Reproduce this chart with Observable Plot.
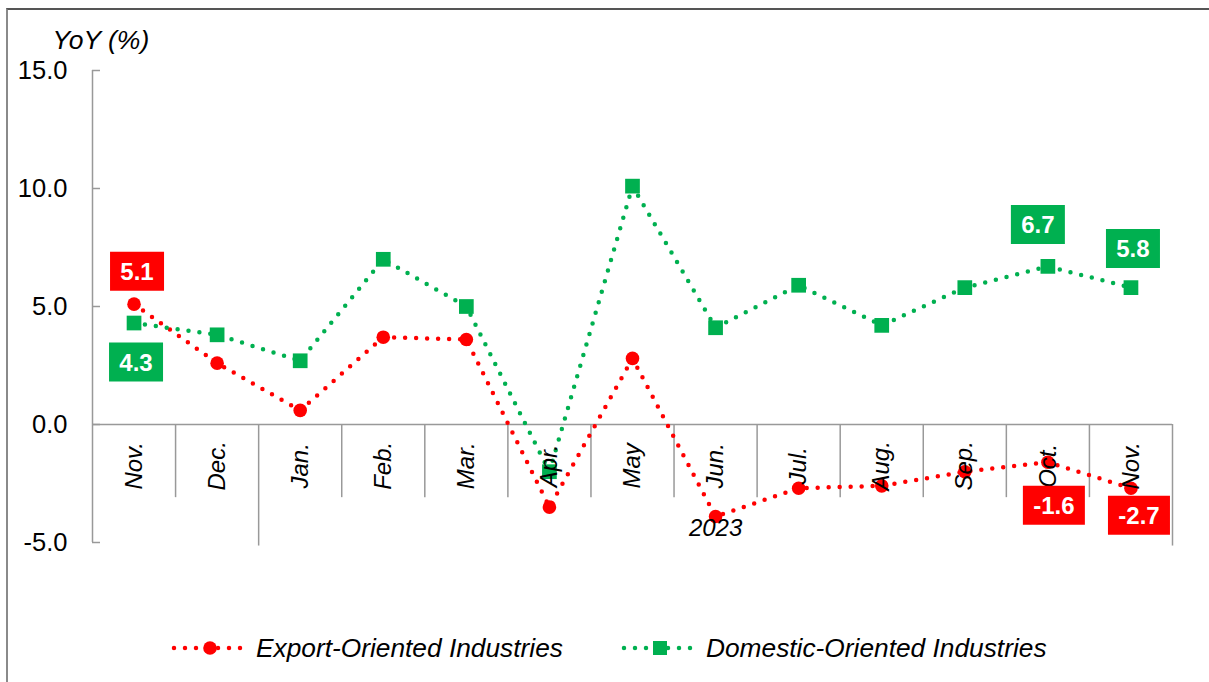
<!DOCTYPE html>
<html>
<head>
<meta charset="utf-8">
<script src="https://cdn.jsdelivr.net/npm/d3@7"></script>
<script src="https://cdn.jsdelivr.net/npm/@observablehq/plot@0.6"></script>
<style>
  html, body { margin: 0; padding: 0; background: #fff; }
  body { font-family: "Liberation Sans", Arial, sans-serif; }
  #wrap { position: relative; width: 1209px; height: 682px; overflow: hidden; }
  #frame { position: absolute; left: 6px; top: 8px; width: 1400px; height: 900px;
           border-left: 2px solid #8a8a8a; border-top: 2px solid #555; box-sizing: border-box; }
  #chart { position: absolute; left: 0; top: 0; }
  .leg { position: absolute; top: 628px; height: 40px; display: flex; align-items: center;
         font-style: italic; font-size: 26.3px; color: #000; white-space: nowrap; }
  .leg svg { margin-right: 6px; }
</style>
</head>
<body>
<div id="wrap">
  <div id="frame"></div>
  <div id="chart"></div>
  <div class="leg" id="leg1" style="left:170px"></div>
  <div class="leg" id="leg2" style="left:620px"></div>
</div>
<script>
// ---- Data ----
const months = ["Nov.", "Dec.", "Jan.", "Feb.", "Mar.", "Apr.", "May", "Jun.", "Jul.", "Aug.", "Sep.", "Oct.", "Nov."];
const exportOriented = [5.1, 2.6, 0.6, 3.7, 3.6, -3.5, 2.8, -3.9, -2.7, -2.6, -2.0, -1.6, -2.7];
const domesticOriented = [4.3, 3.8, 2.7, 7.0, 5.0, -2.0, 10.1, 4.1, 5.9, 4.2, 5.8, 6.7, 5.8];
const yTicks = [-5, 0, 5, 10, 15];
const yearLabel = "2023";
const seriesNames = ["Export-Oriented Industries", "Domestic-Oriented Industries"];
// labelled points: [series, month index]
const labelled = [["export", 0], ["domestic", 0], ["domestic", 11], ["domestic", 12], ["export", 11], ["export", 12]];

// ---- Styles ----
const RED = "#FF0000", GREEN = "#00B050";
const FONT = "Liberation Sans, Arial, sans-serif";
const labelOffsets = [[3, -33], [2, 39], [-10, -42], [2, -39], [6, 43], [8, 27]];

const rows = months.map((m, i) => ({i, month: m, export: exportOriented[i], domestic: domesticOriented[i]}));
const boundaries = d3.range(months.length + 1).map(k => k - 0.5);

function rectSymbol(w, h) {
  return { draw(ctx) { ctx.rect(-w / 2, -h / 2, w, h); } };
}

const labelMarks = labelled.flatMap(([s, idx], k) => {
  const v = s === "export" ? exportOriented[idx] : domesticOriented[idx];
  const txt = v.toFixed(1);
  const w = v < 0 ? 62 : 54;
  const [dx, dy] = labelOffsets[k];
  const d = [{i: idx, v, txt}];
  return [
    Plot.dot(d, {x: "i", y: "v", r: 1, symbol: rectSymbol(w, 39), fill: s === "export" ? RED : GREEN, stroke: "none", dx, dy}),
    Plot.text(d, {x: "i", y: "v", text: "txt", fill: "white", fontWeight: "bold", fontSize: 24, fontFamily: FONT, dx, dy: dy + 1})
  ];
});

const chart = Plot.plot({
  width: 1209,
  height: 600,
  marginLeft: 92,
  marginRight: 37,
  marginTop: 70,
  marginBottom: 58,
  x: {domain: [-0.5, months.length - 0.5], axis: null},
  y: {domain: [-5, 15], axis: null},
  style: {fontFamily: FONT, background: "transparent", overflow: "visible"},
  marks: [
    // y axis labels
    Plot.axisY({ticks: yTicks, tickSize: 0, tickPadding: 25, tickFormat: d => d.toFixed(1), fontSize: 25.5, fill: "#000"}),
    // y axis line + inward ticks
    Plot.ruleX([-0.5], {y1: -5, y2: 15, stroke: "#999", strokeWidth: 1.5}),
    Plot.axisY({ticks: yTicks, tickSize: 8, dx: 8, tickFormat: () => "", stroke: "#999", strokeWidth: 1.5, strokeOpacity: 1}),
    // x axis line at zero
    Plot.ruleY([0], {x1: -0.5, x2: months.length - 0.5, stroke: "#999", strokeWidth: 1.5}),
    // category separators
    Plot.ruleX(boundaries.slice(1), {
      x: d => d, y1: 0,
      y2: (d, k) => (k === 1 || k === months.length - 1) ? -5.15 : -3.1,
      stroke: "#999", strokeWidth: 1.5
    }),
    // series lines
    Plot.line(rows, {x: "i", y: "export", stroke: RED, strokeWidth: 4.5, strokeDasharray: "0 11", strokeLinecap: "round"}),
    Plot.dot(rows, {x: "i", y: "export", r: 6.8, fill: RED, stroke: "none"}),
    Plot.line(rows, {x: "i", y: "domestic", stroke: GREEN, strokeWidth: 4.5, strokeDasharray: "0 11", strokeLinecap: "round"}),
    Plot.dot(rows, {x: "i", y: "domestic", r: 8.3, symbol: "square", fill: GREEN, stroke: "none"}),
    // category labels
    Plot.text(rows, {x: "i", y: () => -1.75, text: "month", rotate: -90, textAnchor: "middle", fontSize: 24, fontStyle: "italic", fontFamily: FONT, fill: "#000"}),
    // year label
    Plot.text([yearLabel], {x: () => 7, y: () => -4.4, text: d => d, fontSize: 24, fontStyle: "italic", fontFamily: FONT, fill: "#000"}),
    // y axis title
    Plot.text(["YoY (%)"], {frameAnchor: "top-left", lineAnchor: "middle", dx: -40, dy: -30, text: d => d, textAnchor: "start", fontSize: 26.5, fontStyle: "italic", fontFamily: FONT, fill: "#000"}),
    ...labelMarks
  ]
});
document.getElementById("chart").appendChild(chart);

// ---- Legend ----
function legendSymbol(color, square) {
  const svg = d3.create("svg").attr("width", 80).attr("height", 20);
  svg.append("line").attr("x1", 4).attr("x2", 76).attr("y1", 10).attr("y2", 10)
    .attr("stroke", color).attr("stroke-width", 4.5).attr("stroke-dasharray", "0 11").attr("stroke-linecap", "round");
  if (square) svg.append("rect").attr("x", 33).attr("y", 3).attr("width", 14).attr("height", 14).attr("fill", color);
  else svg.append("circle").attr("cx", 40).attr("cy", 10).attr("r", 6.8).attr("fill", color);
  return svg.node();
}
const l1 = document.getElementById("leg1");
l1.appendChild(legendSymbol(RED, false));
l1.appendChild(document.createTextNode(seriesNames[0]));
const l2 = document.getElementById("leg2");
l2.appendChild(legendSymbol(GREEN, true));
l2.appendChild(document.createTextNode(seriesNames[1]));
</script>
</body>
</html>
